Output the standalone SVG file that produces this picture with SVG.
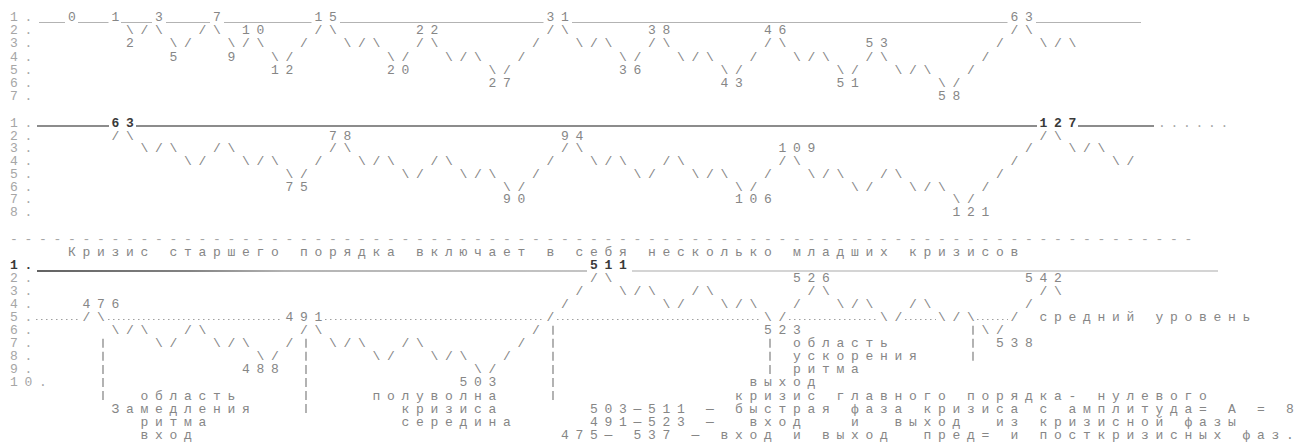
<svg xmlns="http://www.w3.org/2000/svg" width="1301" height="443" viewBox="0 0 1301 443" xml:space="preserve">
<style>
.t{font-family:"Liberation Mono","DejaVu Sans Mono",monospace;font-size:13px;letter-spacing:6.7px;fill:#868686;white-space:pre}
.rl{fill:#a6a6a6}
.b{font-weight:bold;fill:#3a3a3a}
.ln1{stroke:#b3b3b3;stroke-width:1}
.ln2{stroke:#666;stroke-width:1.6}
.ln3{stroke:#aaa;stroke-width:1.2}
.dot{stroke:#a0a0a0;stroke-width:1.2;stroke-dasharray:1.5 3.5}
.vd{stroke:#8a8a8a;stroke-width:1.3;stroke-dasharray:9 4.05}
</style>
<defs>
<linearGradient id="g3" gradientUnits="userSpaceOnUse" x1="37" y1="0" x2="587" y2="0">
<stop offset="0" stop-color="#2e2e2e"/><stop offset="0.28" stop-color="#5a5a5a"/><stop offset="0.45" stop-color="#9a9a9a"/><stop offset="1" stop-color="#b0b0b0"/>
</linearGradient>
</defs>
<rect width="1301" height="443" fill="#ffffff"/>
<g id="connectors">
<g id="levels-top">
<line class="ln1" x1="39" y1="22.5" x2="65" y2="22.5"/>
<line class="ln1" x1="78" y1="22.5" x2="108.5" y2="22.5"/>
<line class="ln1" x1="121" y1="22.5" x2="152" y2="22.5"/>
<line class="ln1" x1="166" y1="22.5" x2="210" y2="22.5"/>
<line class="ln1" x1="224" y1="22.5" x2="311.5" y2="22.5"/>
<line class="ln1" x1="340" y1="22.5" x2="543.5" y2="22.5"/>
<line class="ln1" x1="572" y1="22.5" x2="1007.5" y2="22.5"/>
<line class="ln1" x1="1036" y1="22.5" x2="1141" y2="22.5"/>
</g>
<g id="levels-mid">
<line class="ln2" x1="37" y1="126" x2="109" y2="126"/>
<line class="ln2" x1="136" y1="126" x2="1037" y2="126"/>
<line class="ln2" x1="1078" y1="126" x2="1154" y2="126"/>
</g>
<g id="levels-bottom">
<line stroke="url(#g3)" stroke-width="1.6" x1="37" y1="271" x2="587" y2="271"/>
<line class="ln3" x1="632" y1="271" x2="1218" y2="271"/>
<line class="dot" x1="36" y1="319.5" x2="80" y2="319.5"/>
<line class="dot" x1="108" y1="319.5" x2="283" y2="319.5"/>
<line class="dot" x1="325" y1="319.5" x2="544" y2="319.5"/>
<line class="dot" x1="557" y1="319.5" x2="762" y2="319.5"/>
<line class="dot" x1="789" y1="319.5" x2="878" y2="319.5"/>
<line class="dot" x1="905" y1="319.5" x2="936" y2="319.5"/>
<line class="dot" x1="977" y1="319.5" x2="1008" y2="319.5"/>
<line class="vd" x1="103" y1="338.8" x2="103" y2="400"/>
<line class="vd" x1="306" y1="338.8" x2="306" y2="413"/>
<line class="vd" x1="553" y1="325.75" x2="553" y2="400"/>
<line class="vd" x1="770" y1="338.8" x2="770" y2="373.9"/>
<line class="vd" x1="973" y1="325.75" x2="973" y2="360.9"/>
</g>
</g>
<g id="sec1">
<text class="t rl" x="10" y="21">1.</text>
<text class="t rl" x="10" y="34.2">2.</text>
<text class="t rl" x="10" y="47.4">3.</text>
<text class="t rl" x="10" y="60.6">4.</text>
<text class="t rl" x="10" y="73.8">5.</text>
<text class="t rl" x="10" y="87">6.</text>
<text class="t rl" x="10" y="100.2">7.</text>
<text class="t" y="20.5"><tspan x="68">0</tspan> <tspan x="111.5">1</tspan> <tspan x="155">3</tspan> <tspan x="213">7</tspan> <tspan x="314.5">15</tspan> <tspan x="546.5">31</tspan> <tspan x="1010.5">63</tspan></text>
<text class="t" y="34.2"><tspan x="126">\/\</tspan> <tspan x="198.5">/\ 10</tspan> <tspan x="314.5">/\</tspan> <tspan x="416">22</tspan> <tspan x="546.5">/\</tspan> <tspan x="648">38</tspan> <tspan x="764">46</tspan> <tspan x="1010.5">/\</tspan></text>
<text class="t" y="47.4"><tspan x="126">2  \/  \/\  /  \/\  /\</tspan> <tspan x="532">/  \/\  /\</tspan> <tspan x="764">/\</tspan> <tspan x="865.5">53</tspan> <tspan x="996">/  \/\</tspan></text>
<text class="t" y="60.6"><tspan x="169.5">5   9  \/</tspan> <tspan x="387">\/  \/\  /</tspan> <tspan x="619">\/  \/\  /  \/\  /\</tspan> <tspan x="981.5">/</tspan></text>
<text class="t" y="73.8"><tspan x="271">12</tspan> <tspan x="387">20</tspan> <tspan x="488.5">\/</tspan> <tspan x="619">36</tspan> <tspan x="720.5">\/</tspan> <tspan x="836.5">\/  \/\  /</tspan></text>
<text class="t" y="87"><tspan x="488.5">27</tspan> <tspan x="720.5">43</tspan> <tspan x="836.5">51</tspan> <tspan x="938">\/</tspan></text>
<text class="t" x="938" y="100.2">58</text>
</g>
<g id="sec2">
<text class="t rl" x="10" y="127">1.</text>
<text class="t rl" x="10" y="139.7">2.</text>
<text class="t rl" x="10" y="152.4">3.</text>
<text class="t rl" x="10" y="165.1">4.</text>
<text class="t rl" x="10" y="177.8">5.</text>
<text class="t rl" x="10" y="190.5">6.</text>
<text class="t rl" x="10" y="203.2">7.</text>
<text class="t rl" x="10" y="215.9">8.</text>
<text class="t b" y="127"><tspan x="111.5">63</tspan> <tspan x="1039.5">127</tspan></text>
<text class="t rl" x="1158" y="127" style="letter-spacing:4.7px">......</text>
<text class="t" y="139.7"><tspan x="111.5">/\</tspan> <tspan x="329">78</tspan> <tspan x="561">94</tspan> <tspan x="1039.5">/\</tspan></text>
<text class="t" y="152.4"><tspan x="140.5">\/\  /\</tspan> <tspan x="329">/\</tspan> <tspan x="561">/\</tspan> <tspan x="778.5">109</tspan> <tspan x="1025">/  \/\</tspan></text>
<text class="t" y="165.1"><tspan x="184">\/  \/\  /  \/\  /\</tspan> <tspan x="546.5">/  \/\  /\</tspan> <tspan x="778.5">/\</tspan> <tspan x="1010.5">/</tspan> <tspan x="1112">\/</tspan></text>
<text class="t" y="177.8"><tspan x="285.5">\/</tspan> <tspan x="401.5">\/  \/\  /</tspan> <tspan x="633.5">\/  \/\  /  \/\  /\</tspan> <tspan x="996">/</tspan></text>
<text class="t" y="190.5"><tspan x="285.5">75</tspan> <tspan x="503">\/</tspan> <tspan x="735">\/</tspan> <tspan x="851">\/  \/\  /</tspan></text>
<text class="t" y="203.2"><tspan x="503">90</tspan> <tspan x="735">106</tspan> <tspan x="952.5">\/</tspan></text>
<text class="t" x="952.5" y="215.9">121</text>
</g>
<g id="sec3">
<text class="t rl" x="10" y="243.3">----------------------------------------------------------------------------------</text>
<text class="t" x="68" y="256.2">Кризис старшего порядка включает в себя несколько младших кризисов</text>
<text class="t b" x="10" y="269">1.</text>
<text class="t rl" x="10" y="282.05">2.</text>
<text class="t rl" x="10" y="295.1">3.</text>
<text class="t rl" x="10" y="308.15">4.</text>
<text class="t rl" x="10" y="321.2">5.</text>
<text class="t rl" x="10" y="334.25">6.</text>
<text class="t rl" x="10" y="347.3">7.</text>
<text class="t rl" x="10" y="360.35">8.</text>
<text class="t rl" x="10" y="373.4">9.</text>
<text class="t rl" x="10" y="386.45">10.</text>
<text class="t b" x="590" y="269">511</text>
<text class="t" y="282.05"><tspan x="590">/\</tspan> <tspan x="793">526</tspan> <tspan x="1025">542</tspan></text>
<text class="t" y="295.1"><tspan x="575.5">/  \/\  /\</tspan> <tspan x="807.5">/\</tspan> <tspan x="1039.5">/\</tspan></text>
<text class="t" y="308.15"><tspan x="82.5">476</tspan> <tspan x="561">/</tspan> <tspan x="662.5">\/  \/\  /  \/\  /\</tspan> <tspan x="1025">/</tspan></text>
<text class="t" y="321.2"><tspan x="82.5">/\</tspan> <tspan x="285.5">491</tspan> <tspan x="546.5">/</tspan> <tspan x="764">\/</tspan> <tspan x="880">\/  \/\  / средний уровень</tspan></text>
<text class="t" y="334.25"><tspan x="111.5">\/\  /\</tspan> <tspan x="300">/\</tspan> <tspan x="532">/</tspan> <tspan x="764">523</tspan> <tspan x="981.5">\/</tspan></text>
<text class="t" y="347.3"><tspan x="155">\/  \/\  /  \/\  /\</tspan> <tspan x="517.5">/</tspan> <tspan x="793">область</tspan> <tspan x="996">538</tspan></text>
<text class="t" y="360.35"><tspan x="256.5">\/</tspan> <tspan x="372.5">\/  \/\  /</tspan> <tspan x="793">ускорения</tspan></text>
<text class="t" y="373.4"><tspan x="242">488</tspan> <tspan x="474">\/</tspan> <tspan x="793">ритма</tspan></text>
<text class="t" y="386.45"><tspan x="459.5">503</tspan> <tspan x="749.5">выход</tspan></text>
<text class="t" y="399.5"><tspan x="140.5">область</tspan> <tspan x="372.5">полуволна</tspan> <tspan x="735">кризис главного порядка- нулевого</tspan></text>
<text class="t" y="412.55"><tspan x="111.5">Замедления</tspan> <tspan x="401.5">кризиса</tspan> <tspan x="590">503—511 — быстрая фаза кризиса с амплитуда= A = 8</tspan></text>
<text class="t" y="425.6"><tspan x="140.5">ритма</tspan> <tspan x="401.5">середина</tspan> <tspan x="590">491—523 —</tspan> <tspan x="749.5">вход</tspan> <tspan x="851">и</tspan> <tspan x="894.5">выход</tspan> <tspan x="996">из</tspan> <tspan x="1039.5">кризисной</tspan> <tspan x="1184.5">фазы</tspan></text>
<text class="t" y="438.65"><tspan x="140.5">вход</tspan> <tspan x="561">475</tspan> <tspan x="604.5">—</tspan> <tspan x="633.5">537</tspan> <tspan x="691.5">—</tspan> <tspan x="720.5">вход</tspan> <tspan x="793">и</tspan> <tspan x="822">выход</tspan> <tspan x="923.5">пред=</tspan> <tspan x="1010.5">и</tspan> <tspan x="1039.5">посткризисных</tspan> <tspan x="1242.5">фаз.</tspan></text>
</g>
</svg>
